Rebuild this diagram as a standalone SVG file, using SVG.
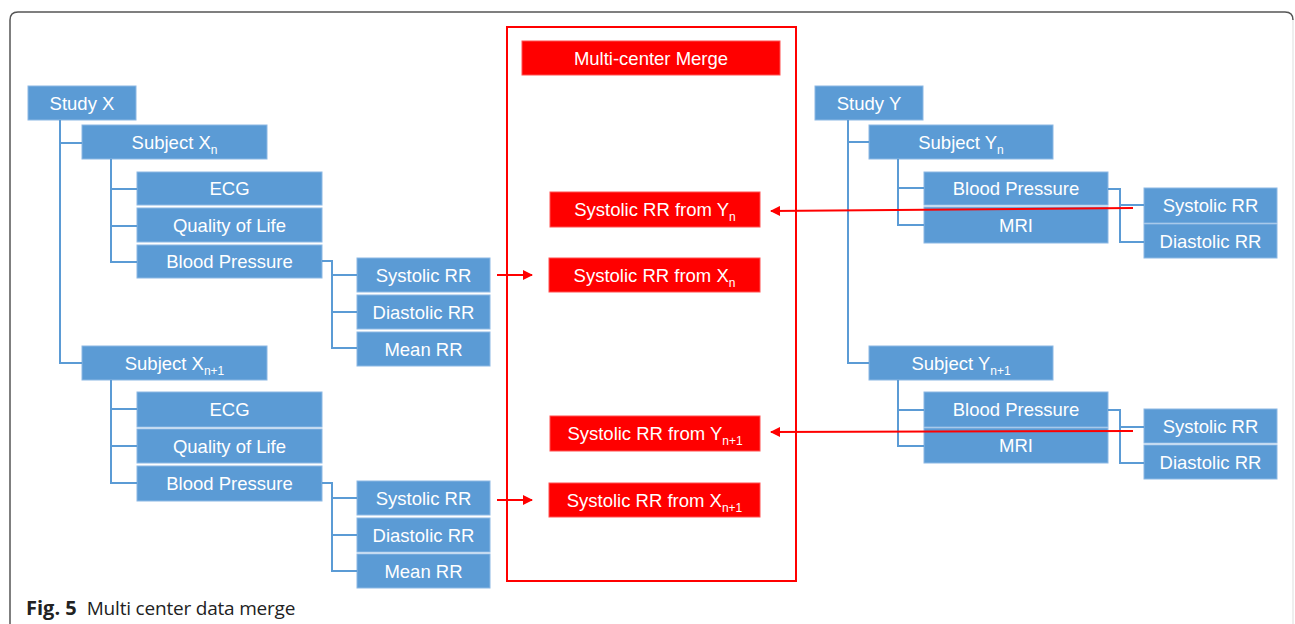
<svg xmlns="http://www.w3.org/2000/svg" width="1295" height="624" viewBox="0 0 1295 624">
<defs>
<style>
.b{fill:#5b9bd5;stroke:#8cb8e4;stroke-width:1}
.r{fill:#ff0000;stroke:#ff5050;stroke-width:1}
.t{font-family:"Liberation Sans",Arial,sans-serif;font-size:18.5px;fill:#ffffff;text-anchor:middle}
.s{font-size:12px}
.c{fill:none;stroke:#5b9bd5;stroke-width:2}
.a{fill:none;stroke:#ff0000;stroke-width:2}
</style>
<marker id="ah" viewBox="0 0 10 10" refX="9" refY="5" markerWidth="5.5" markerHeight="5" orient="auto" markerUnits="strokeWidth">
<path d="M0,0 L10,5 L0,10 Z" fill="#ff0000"/>
</marker>
</defs>
<rect width="1295" height="624" fill="#ffffff"/>
<path d="M10,624 V20 Q10,12 18,12 H1285 Q1293,12 1293,20" fill="none" stroke="#555555" stroke-width="1.5"/>
<path d="M1293,20 V624" fill="none" stroke="#dddddd" stroke-width="1"/>
<rect x="507" y="27" width="289" height="554" fill="none" stroke="#ff0000" stroke-width="2"/>

<g id="studyX"><rect class="b" x="28" y="86" width="108" height="34"/><text class="t" x="82" y="109.5">Study X</text></g>
<g id="subjectXn"><rect class="b" x="82" y="125" width="185" height="34"/><text class="t" x="174.5" y="148.5">Subject X<tspan class="s" dy="5">n</tspan></text></g>
<g id="ecg1"><rect class="b" x="137" y="172" width="185" height="33"/><text class="t" x="229.5" y="195">ECG</text></g>
<g id="qol1"><rect class="b" x="137" y="208" width="185" height="34"/><text class="t" x="229.5" y="231.5">Quality of Life</text></g>
<g id="bp1"><rect class="b" x="137" y="245" width="185" height="33"/><text class="t" x="229.5" y="268">Blood Pressure</text></g>
<g id="sys1"><rect class="b" x="357" y="258" width="133" height="34"/><text class="t" x="423.5" y="281.5">Systolic RR</text></g>
<g id="dia1"><rect class="b" x="357" y="295" width="133" height="34"/><text class="t" x="423.5" y="318.5">Diastolic RR</text></g>
<g id="mean1"><rect class="b" x="357" y="332" width="133" height="34"/><text class="t" x="423.5" y="355.5">Mean RR</text></g>

<g id="subjectXn1"><rect class="b" x="82" y="346" width="185" height="34"/><text class="t" x="174.5" y="369.5">Subject X<tspan class="s" dy="5">n+1</tspan></text></g>
<g id="ecg2"><rect class="b" x="137" y="392" width="185" height="35"/><text class="t" x="229.5" y="416">ECG</text></g>
<g id="qol2"><rect class="b" x="137" y="429" width="185" height="34"/><text class="t" x="229.5" y="452.5">Quality of Life</text></g>
<g id="bp2"><rect class="b" x="137" y="466" width="185" height="35"/><text class="t" x="229.5" y="489.5">Blood Pressure</text></g>
<g id="sys2"><rect class="b" x="357" y="481" width="133" height="34"/><text class="t" x="423.5" y="504.5">Systolic RR</text></g>
<g id="dia2"><rect class="b" x="357" y="518" width="133" height="34"/><text class="t" x="423.5" y="541.5">Diastolic RR</text></g>
<g id="mean2"><rect class="b" x="357" y="554" width="133" height="34"/><text class="t" x="423.5" y="577.5">Mean RR</text></g>

<g id="merge"><rect class="r" x="522" y="41" width="258" height="34"/><text class="t" x="651" y="64.5">Multi-center Merge</text></g>
<g id="fromYn"><rect class="r" x="550" y="192" width="210" height="35"/><text class="t" x="655" y="215.5">Systolic RR from Y<tspan class="s" dy="5">n</tspan></text></g>
<g id="fromXn"><rect class="r" x="549" y="258" width="211" height="34"/><text class="t" x="654.5" y="281.5">Systolic RR from X<tspan class="s" dy="5">n</tspan></text></g>
<g id="fromYn1"><rect class="r" x="550" y="416" width="210" height="35"/><text class="t" x="655" y="439.5">Systolic RR from Y<tspan class="s" dy="5">n+1</tspan></text></g>
<g id="fromXn1"><rect class="r" x="549" y="483" width="211" height="34"/><text class="t" x="654.5" y="506.5">Systolic RR from X<tspan class="s" dy="5">n+1</tspan></text></g>

<g id="studyY"><rect class="b" x="815" y="86" width="108" height="34"/><text class="t" x="869" y="109.5">Study Y</text></g>
<g id="subjectYn"><rect class="b" x="869" y="125" width="184" height="34"/><text class="t" x="961" y="148.5">Subject Y<tspan class="s" dy="5">n</tspan></text></g>
<g id="bpY1"><rect class="b" x="924" y="172" width="184" height="33"/><text class="t" x="1016" y="195">Blood Pressure</text></g>
<g id="mri1"><rect class="b" x="924" y="207" width="184" height="36"/><text class="t" x="1016" y="231.5">MRI</text></g>
<g id="sysY1"><rect class="b" x="1144" y="188" width="133" height="35"/><text class="t" x="1210.5" y="211.5">Systolic RR</text></g>
<g id="diaY1"><rect class="b" x="1144" y="224" width="133" height="34"/><text class="t" x="1210.5" y="247.5">Diastolic RR</text></g>

<g id="subjectYn1"><rect class="b" x="869" y="346" width="184" height="34"/><text class="t" x="961" y="369.5">Subject Y<tspan class="s" dy="5">n+1</tspan></text></g>
<g id="bpY2"><rect class="b" x="924" y="392" width="184" height="35"/><text class="t" x="1016" y="416">Blood Pressure</text></g>
<g id="mri2"><rect class="b" x="924" y="428" width="184" height="35"/><text class="t" x="1016" y="452">MRI</text></g>
<g id="sysY2"><rect class="b" x="1144" y="409" width="133" height="34"/><text class="t" x="1210.5" y="432.5">Systolic RR</text></g>
<g id="diaY2"><rect class="b" x="1144" y="445" width="133" height="34"/><text class="t" x="1210.5" y="468.5">Diastolic RR</text></g>

<g id="connectors">
<path class="c" d="M60,120 V363 H82 M60,143 H82"/>
<path class="c" d="M111,159 V262 H137 M111,189 H137 M111,226 H137"/>
<path class="c" d="M322,261 H332 V348 H357 M332,275 H357 M332,312 H357"/>
<path class="c" d="M111,380 V483 H137 M111,409 H137 M111,446 H137"/>
<path class="c" d="M322,483 H332 V571 H357 M332,498 H357 M332,535 H357"/>
<path class="c" d="M848,120 V363 H869 M848,142 H869"/>
<path class="c" d="M898,159 V225 H924 M898,188 H924"/>
<path class="c" d="M1108,189 H1120 V242 H1144 M1120,205 H1144"/>
<path class="c" d="M898,380 V446 H924 M898,410 H924"/>
<path class="c" d="M1108,410 H1120 V463 H1144 M1120,427 H1144"/>
<path class="a" d="M497,275 H532" marker-end="url(#ah)"/>
<path class="a" d="M497,500 H532" marker-end="url(#ah)"/>
<path class="a" d="M1133,208 L771,211" marker-end="url(#ah)"/>
<path class="a" d="M1133,431 L771,432" marker-end="url(#ah)"/>
</g>

<text x="26" y="615" font-family="'Open Sans','Noto Sans',sans-serif" font-size="19" fill="#222222"><tspan font-weight="bold" font-size="20">Fig. 5</tspan><tspan dx="10" letter-spacing="-0.2">Multi center data merge</tspan></text>
</svg>
